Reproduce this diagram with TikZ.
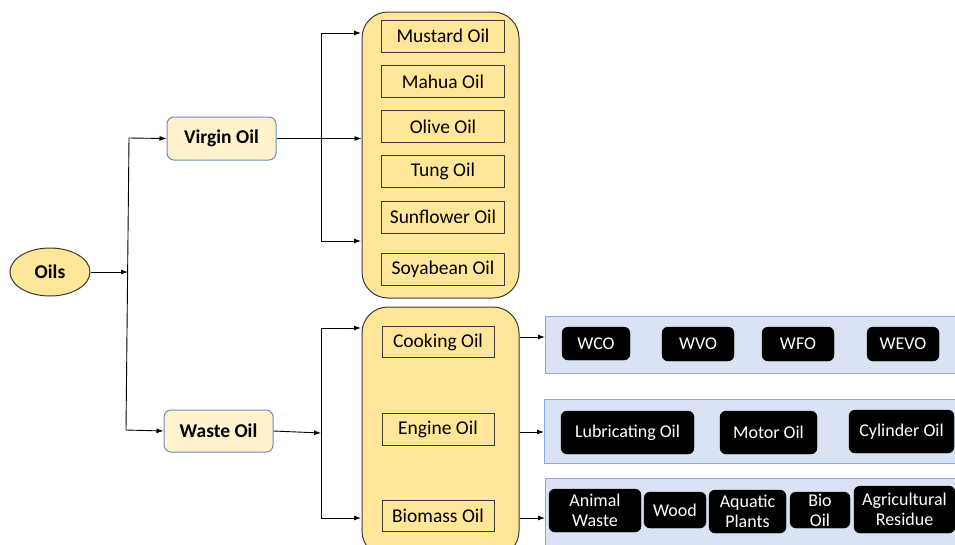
\documentclass[tikz,border=0pt]{standalone}
\usepackage{fontspec}
\setmainfont{Carlito}
\usetikzlibrary{arrows.meta,shapes.geometric}
\definecolor{gold}{HTML}{FFE699}
\definecolor{cream}{HTML}{FFF2CC}
\definecolor{lblue}{HTML}{DAE3F3}
\definecolor{pblue}{HTML}{8FAADC}
\definecolor{nblue}{HTML}{6C8EBF}
\definecolor{edge}{HTML}{3A3A3A}
\tikzset{
  conn/.style={draw=black,line width=0.9pt,-{Latex[length=7pt,width=5pt]}},
  plain/.style={draw=black,line width=0.9pt},
  bigbox/.style={draw=edge,line width=1pt,fill=gold,rounded corners=26pt},
  item/.style={draw=edge,line width=0.9pt,fill=gold,font=\fontsize{19.5}{21}\selectfont},
  mainbox/.style={draw=nblue,line width=1pt,fill=cream,rounded corners=7pt,font=\bfseries\fontsize{19.5}{21}\selectfont},
  panel/.style={draw=pblue,line width=1pt,fill=lblue},
  blk/.style={draw=black,fill=black,rounded corners=6pt,text=white,align=center,font=\fontsize{18}{20}\selectfont},
}
\begin{document}
\begin{tikzpicture}[x=1pt,y=-1pt]
\clip (0,0) rectangle (955,544);
\fill[white] (0,0) rectangle (955,544);

% Oils
\node[ellipse,draw=edge,line width=1pt,fill=gold,minimum width=80pt,minimum height=48pt,inner sep=0pt,font=\bfseries\fontsize{19.5}{21}\selectfont] (oils) at (50,272) {Oils};
\coordinate (j1) at (128,272);
\coordinate (j1t) at (129,138);
\coordinate (j1b) at (126,430);

% main boxes
\node[mainbox,minimum width=109pt,minimum height=43pt,inner sep=0pt] (virgin) at (221.5,138.5) {Virgin Oil};
\node[mainbox,minimum width=109pt,minimum height=42pt,inner sep=0pt] (waste) at (218.5,431) {Waste Oil};

% big boxes
\node[bigbox,minimum width=157pt,minimum height=286pt,inner sep=0pt] (top) at (440.5,155) {};
\node[bigbox,minimum width=157pt,minimum height=250pt,inner sep=0pt] (bot) at (440.5,432) {};

% top items
\foreach \n/\t/\y in {mus/Mustard Oil/36, mah/Mahua Oil/81.5, oli/Olive Oil/126.5, tun/Tung Oil/171, sun/Sunflower Oil/217, soy/Soyabean Oil/269}{
  \node[item,minimum width=123pt,minimum height=32pt,inner sep=0pt] (\n) at (443,\y) {\t};
}
% bottom items
\node[item,minimum width=112pt,minimum height=31pt,inner sep=0pt] (cook) at (438,342) {Cooking Oil};
\node[item,minimum width=112pt,minimum height=32pt,inner sep=0pt] (eng) at (438,429) {Engine Oil};
\node[item,minimum width=112pt,minimum height=31pt,inner sep=0pt] (bio) at (438,515.5) {Biomass Oil};

% panels
\node[panel,minimum width=420pt,minimum height=57pt,inner sep=0pt,anchor=north west] (p1) at (545,316) {};
\node[panel,minimum width=420pt,minimum height=64pt,inner sep=0pt,anchor=north west] (p2) at (544,399) {};
\node[panel,minimum width=420pt,minimum height=80pt,inner sep=0pt,anchor=north west] (p3) at (545,478) {};

% black boxes panel 1
\node[blk,minimum width=68pt,minimum height=33pt,inner sep=0pt] (wco) at (596,343.5) {WCO};
\node[blk,minimum width=72pt,minimum height=34pt,inner sep=0pt] (wvo) at (698,344) {WVO};
\node[blk,minimum width=72pt,minimum height=34pt,inner sep=0pt] (wfo) at (798,344) {WFO};
\node[blk,minimum width=72pt,minimum height=34pt,inner sep=0pt] (wevo) at (903,344) {WEVO};
% panel 2
\node[blk,minimum width=133pt,minimum height=43pt,inner sep=0pt] (lub) at (627.5,432.5) {Lubricating Oil};
\node[blk,minimum width=97pt,minimum height=43pt,inner sep=0pt] (mot) at (768.5,432.5) {Motor Oil};
\node[blk,minimum width=105pt,minimum height=43pt,inner sep=0pt] (cyl) at (901.5,431.5) {Cylinder Oil};
% panel 3
\node[blk,minimum width=92pt,minimum height=43pt,inner sep=0pt] (ani) at (595,510.5) {Animal\\Waste};
\node[blk,minimum width=62pt,minimum height=36pt,inner sep=0pt] (wood) at (675,510) {Wood};
\node[blk,minimum width=77pt,minimum height=43pt,inner sep=0pt] (aqu) at (747.5,511.5) {Aquatic\\Plants};
\node[blk,minimum width=60pt,minimum height=36pt,inner sep=0pt] (bioil) at (820,510) {Bio\\Oil};
\node[blk,minimum width=101pt,minimum height=47pt,inner sep=0pt] (agr) at (904.5,509.5) {Agricultural\\Residue};

% connectors Oils
\draw[conn] (oils.east) -- (j1);
\draw[plain] (j1t) -- (j1b);
\draw[conn] (j1t) -- (virgin.west);
\draw[conn] (j1b) -- (waste.west);

% virgin -> top
\coordinate (v1) at (321,33);
\coordinate (v2) at (321,241);
\coordinate (vt) at (361,33);
\coordinate (vb) at (361,241);
\draw[plain] (v1) -- (v2);
\draw[conn] (v1) -- (vt);
\draw[conn] (v2) -- (vb);
\draw[conn] (virgin.east) -- (top.west |- virgin.east);

% waste -> bottom
\coordinate (w1) at (321,328);
\coordinate (w2) at (321,518);
\coordinate (wm) at (321,433);
\coordinate (wt) at (361,328);
\coordinate (wb) at (361,518);
\draw[plain] (w1) -- (w2);
\draw[conn] (w1) -- (wt);
\draw[conn] (w2) -- (wb);
\draw[conn] (waste.east) -- (wm);

% bottom -> panels
\draw[conn] (bot.east |- 0,337) -- (p1.west |- 0,337);
\draw[conn] (bot.east |- 0,432) -- (p2.west |- 0,432);
\draw[conn] (bot.east |- 0,518) -- (p3.west |- 0,518);
\end{tikzpicture}
\end{document}
